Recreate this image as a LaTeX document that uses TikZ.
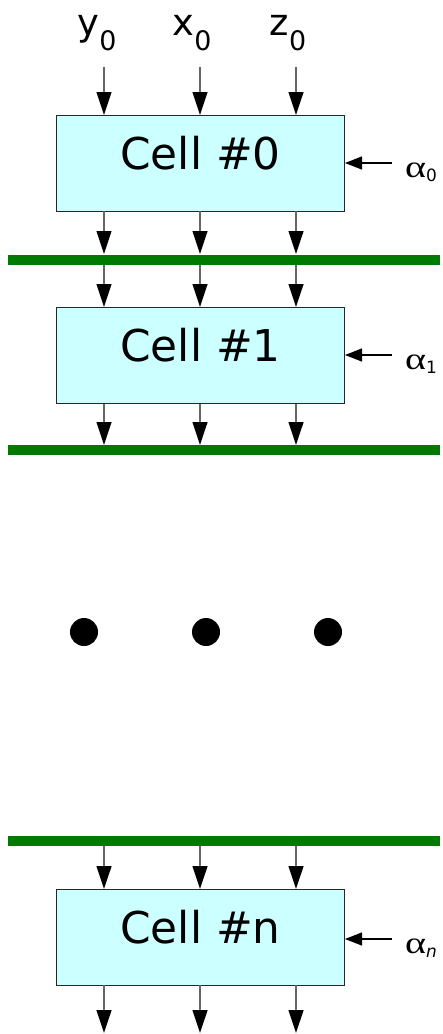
\documentclass[tikz,border=0pt]{standalone}
\usepackage{fontspec}
\setmainfont{DejaVu Sans}
\newfontfamily\greekfont{Liberation Serif}
\usetikzlibrary{arrows.meta}
\definecolor{cellfill}{HTML}{CCFFFF}
\definecolor{bargreen}{HTML}{007A00}
\definecolor{wiregray}{HTML}{666666}
\newcommand{\alphaglyph}{\scalebox{1.3}[1]{\greekfont α}}
\begin{document}
\begin{tikzpicture}[x=1bp,y=-1bp,
  cellbox/.style={draw=black!85, line width=1bp, fill=cellfill, minimum width=288bp, minimum height=96bp,
    anchor=north west, inner sep=0pt, font=\fontsize{44}{44}\selectfont, text height=33bp, text depth=22bp},
  wire/.style={draw=wiregray, line width=1.2bp, -{Triangle[length=23bp,width=15bp,color=black]}},
  awire/.style={draw=black, line width=1.2bp, -{Triangle[length=17bp,width=13bp,color=black]}},
  bar/.style={draw=bargreen, line width=10bp},
  inlab/.style={anchor=base, inner sep=0pt, font=\fontsize{37}{37}\selectfont},
  alab/.style={anchor=base west, inner sep=0pt, font=\fontsize{31}{31}\selectfont},
  dot/.style={circle, fill=black, minimum size=28bp, inner sep=0pt}]
\useasboundingbox (0,0) rectangle (443,1034);
% cells
\node[cellbox] (c0) at (56,115) {Cell \#0};
\node[cellbox] (c1) at (56,307) {Cell \#1};
\node[cellbox] (cn) at (56,889) {Cell \#n};
% green bars
\coordinate (b1l) at (8,259.5); \coordinate (b1r) at (440,259.5);
\coordinate (b2l) at (8,450); \coordinate (b2r) at (440,450);
\coordinate (b3l) at (8,841); \coordinate (b3r) at (440,841);
% input labels
\node[inlab] (ly) at (97,35) {y\raisebox{-15bp}{\fontsize{27}{27}\selectfont 0}};
\node[inlab] (lx) at (192,35) {x\raisebox{-15bp}{\fontsize{27}{27}\selectfont 0}};
\node[inlab] (lz) at (288,35) {z\raisebox{-15bp}{\fontsize{27}{27}\selectfont 0}};
\foreach \i/\x in {1/104,2/200,3/296}{
  \coordinate (t\i) at (\x,67);
  \draw[wire] (t\i) -- (\x,115);
  \draw[wire] (\x,211) -- (\x,254);
  \draw[wire] (\x,265) -- (\x,307);
  \draw[wire] (\x,404) -- (\x,445);
  \draw[wire] (\x,846) -- (\x,889);
  \draw[wire] (\x,985) -- (\x,1033);
}
\draw[bar] (b1l) -- (b1r);
\draw[bar] (b2l) -- (b2r);
\draw[bar] (b3l) -- (b3r);
% alpha inputs
\node[alab] (a0) at (405,177) {\alphaglyph\raisebox{-4bp}{\fontsize{17}{17}\selectfont 0}};
\node[alab] (a1) at (405,369) {\alphaglyph\raisebox{-4bp}{\fontsize{17}{17}\selectfont 1}};
\node[alab] (an) at (405,953) {\alphaglyph\raisebox{-4bp}{\fontsize{17}{17}\selectfont\itshape n}};
\draw[awire] (392,163) -- (c0.east |- 0,163);
\draw[awire] (392,355) -- (c1.east |- 0,355);
\draw[awire] (392,939) -- (cn.east |- 0,939);
% dots
\node[dot] (d1) at (84,632) {};
\node[dot] (d2) at (206,632) {};
\node[dot] (d3) at (328,632) {};
\end{tikzpicture}
\end{document}
